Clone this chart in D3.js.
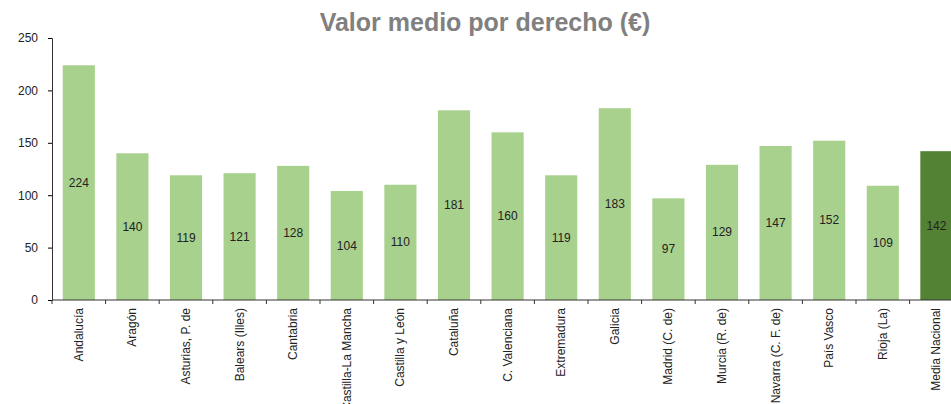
<!DOCTYPE html>
<html>
<head>
<meta charset="utf-8">
<script src="https://cdn.jsdelivr.net/npm/d3@7"></script>
<style>
  body { margin: 0; background: #fff; }
  text { font-family: "Liberation Sans Narrow", "Liberation Sans", sans-serif; }
</style>
</head>
<body>
<div id="chart"></div>
<script>
var regiones = ["Andalucía", "Aragón", "Asturias, P. de", "Balears (Illes)", "Cantabria",
  "Castilla-La Mancha", "Castilla y León", "Cataluña", "C. Valenciana", "Extremadura",
  "Galicia", "Madrid (C. de)", "Murcia (R. de)", "Navarra (C. F. de)", "País Vasco",
  "Rioja (La)", "Media Nacional"];
var valores = [224, 140, 119, 121, 128, 104, 110, 181, 160, 119, 183, 97, 129, 147, 152, 109, 142];
var ticksY = [0, 50, 100, 150, 200, 250];

var width = 951, height = 404;
var mLeft = 52, mTop = 38, mBottom = 300;

var svg = d3.select("#chart").append("svg")
    .attr("width", width)
    .attr("height", height);

svg.append("text")
    .attr("x", 485).attr("y", 31)
    .attr("text-anchor", "middle")
    .style("font-size", "25px")
    .style("font-weight", "bold")
    .attr("fill", "#808080")
    .text("Valor medio por derecho (€)");

var x = d3.scaleBand()
    .domain(regiones)
    .range([mLeft, mLeft + 17 * 53.6])
    .paddingInner(0.4)
    .paddingOuter(0.2);

var y = d3.scaleLinear().domain([0, 250]).range([mBottom, mTop]);

svg.selectAll("rect.bar")
    .data(valores)
    .enter().append("rect")
    .attr("class", "bar")
    .attr("x", function(d, i) { return x(regiones[i]); })
    .attr("width", x.bandwidth())
    .attr("y", function(d) { return y(d); })
    .attr("height", function(d) { return y(0) - y(d); })
    .attr("fill", function(d, i) { return i == regiones.length - 1 ? "#548235" : "#a9d18e"; });

svg.selectAll("text.val")
    .data(valores)
    .enter().append("text")
    .attr("class", "val")
    .attr("x", function(d, i) { return x(regiones[i]) + x.bandwidth() / 2; })
    .attr("y", function(d) { return (y(d) + y(0)) / 2 + 4; })
    .attr("text-anchor", "middle")
    .style("font-size", "12px")
    .attr("fill", "#222")
    .text(function(d) { return d; });

// eje y
var ejeY = svg.append("g")
    .attr("transform", "translate(" + mLeft + ",0)")
    .call(d3.axisLeft(y).tickValues(ticksY).tickSize(4).tickPadding(10));
ejeY.select(".domain").attr("stroke", "#333");
ejeY.selectAll("text").style("font-size", "12px").attr("fill", "#222")
    .style("font-family", "'Liberation Sans Narrow', 'Liberation Sans', sans-serif");

// eje x, marcas entre categorias
var ejeX = svg.append("g").attr("transform", "translate(0," + mBottom + ")");
ejeX.append("line")
    .attr("x1", mLeft).attr("x2", width)
    .attr("stroke", "#333");
var step = x.step();
ejeX.selectAll("line.tk")
    .data(regiones)
    .enter().append("line")
    .attr("class", "tk")
    .attr("x1", function(d) { return x(d) - step * 0.2; })
    .attr("x2", function(d) { return x(d) - step * 0.2; })
    .attr("y1", 0).attr("y2", 4)
    .attr("stroke", "#333");

ejeX.selectAll("text.cat")
    .data(regiones)
    .enter().append("text")
    .attr("class", "cat")
    .attr("transform", function(d) {
      return "translate(" + (x(d) + x.bandwidth() / 2 + 4) + ",8) rotate(-90)";
    })
    .attr("text-anchor", "end")
    .style("font-size", "12px")
    .attr("fill", "#222")
    .text(function(d) { return d; });
</script>
</body>
</html>
